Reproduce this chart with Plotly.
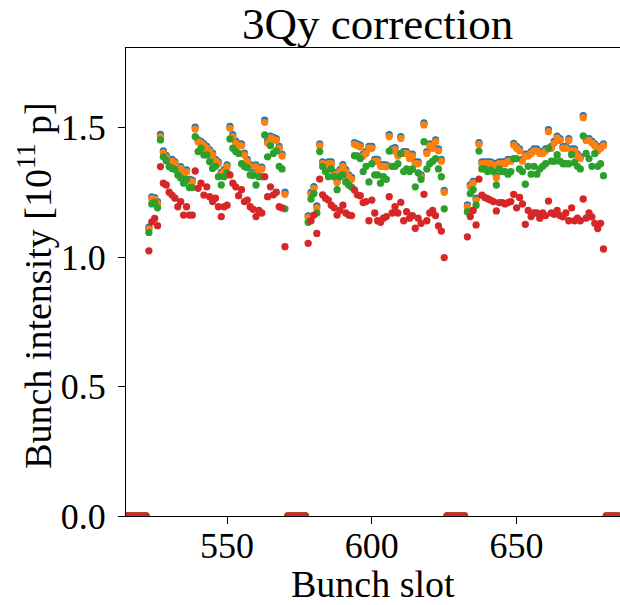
import plotly.graph_objects as go

# Bunch slots
train1_slots = list(range(523, 571))
train2_slots = list(range(578, 626))
train3_slots = list(range(633, 681))
empty_slots = [515, 516, 517, 518, 519, 520, 521, 522,
               571, 572, 573, 574, 575, 576, 577,
               626, 627, 628, 629, 630, 631, 632,
               681, 682, 683, 684, 685]

# Series values (10^11 p) per train
blue_t1 = [1.115, 1.232, 1.229, 1.214, 1.473, 1.410, 1.392, 1.377, 1.377, 1.367, 1.343, 1.349,
           1.327, 1.336, 1.300, 1.297, 1.501, 1.452, 1.446, 1.437, 1.427, 1.414, 1.401, 1.377,
           1.367, 1.327, 1.337, 1.356, 1.504, 1.472, 1.447, 1.437, 1.437, 1.401, 1.377, 1.357,
           1.327, 1.356, 1.343, 1.347, 1.528, 1.447, 1.467, 1.462, 1.457, 1.427, 1.397, 1.250]
orange_t1 = [1.108, 1.225, 1.222, 1.207, 1.465, 1.403, 1.385, 1.370, 1.370, 1.360, 1.336, 1.342,
             1.320, 1.329, 1.293, 1.290, 1.494, 1.445, 1.439, 1.430, 1.420, 1.407, 1.394, 1.370,
             1.360, 1.320, 1.330, 1.349, 1.497, 1.465, 1.440, 1.430, 1.430, 1.394, 1.370, 1.350,
             1.320, 1.349, 1.336, 1.340, 1.520, 1.440, 1.460, 1.455, 1.450, 1.420, 1.390, 1.242]
green_t1 = [1.095, 1.205, 1.212, 1.190, 1.452, 1.387, 1.372, 1.349, 1.342, 1.338, 1.317, 1.305,
            1.285, 1.300, 1.268, 1.268, 1.465, 1.407, 1.420, 1.394, 1.394, 1.368, 1.342, 1.350,
            1.310, 1.278, 1.310, 1.325, 1.456, 1.420, 1.407, 1.400, 1.360, 1.349, 1.345, 1.317,
            1.315, 1.278, 1.310, 1.310, 1.471, 1.387, 1.430, 1.400, 1.410, 1.350, 1.340, 1.186]
red_t1 = [1.024, 1.136, 1.149, 1.121, 1.349, 1.285, 1.278, 1.250, 1.239, 1.227, 1.194, 1.214,
          1.162, 1.194, 1.162, 1.162, 1.332, 1.265, 1.285, 1.239, 1.271, 1.233, 1.214, 1.227,
          1.194, 1.156, 1.194, 1.200, 1.317, 1.285, 1.271, 1.237, 1.260, 1.214, 1.220, 1.194,
          1.184, 1.156, 1.180, 1.170, 1.310, 1.233, 1.271, 1.240, 1.250, 1.194, 1.190, 1.040]

blue_t2 = [1.159, 1.249, 1.272, 1.197, 1.437, 1.367, 1.357, 1.367, 1.367, 1.327, 1.295, 1.337,
           1.357, 1.337, 1.317, 1.307, 1.442, 1.437, 1.432, 1.397, 1.407, 1.427, 1.427, 1.377,
           1.377, 1.357, 1.357, 1.356, 1.472, 1.417, 1.422, 1.397, 1.465, 1.407, 1.407, 1.387,
           1.397, 1.367, 1.367, 1.317, 1.518, 1.407, 1.437, 1.427, 1.452, 1.417, 1.377, 1.257]
orange_t2 = [1.152, 1.242, 1.265, 1.190, 1.430, 1.360, 1.350, 1.360, 1.360, 1.320, 1.288, 1.330,
             1.350, 1.330, 1.310, 1.300, 1.435, 1.430, 1.425, 1.390, 1.400, 1.420, 1.420, 1.370,
             1.370, 1.350, 1.350, 1.349, 1.465, 1.410, 1.415, 1.390, 1.458, 1.400, 1.400, 1.380,
             1.390, 1.360, 1.360, 1.310, 1.510, 1.400, 1.430, 1.420, 1.445, 1.410, 1.370, 1.250]
green_t2 = [1.134, 1.224, 1.245, 1.170, 1.407, 1.349, 1.330, 1.310, 1.340, 1.310, 1.260, 1.310,
            1.317, 1.290, 1.278, 1.270, 1.391, 1.390, 1.380, 1.330, 1.350, 1.290, 1.360, 1.317,
            1.317, 1.285, 1.310, 1.300, 1.409, 1.350, 1.350, 1.360, 1.400, 1.330, 1.340, 1.330,
            1.340, 1.271, 1.325, 1.300, 1.445, 1.340, 1.360, 1.370, 1.380, 1.340, 1.310, 1.186]
red_t2 = [1.053, 1.140, 1.162, 1.091, 1.301, 1.240, 1.227, 1.220, 1.200, 1.190, 1.162, 1.180,
          1.200, 1.170, 1.162, 1.160, 1.259, 1.240, 1.237, 1.210, 1.214, 1.140, 1.220, 1.170,
          1.140, 1.134, 1.150, 1.156, 1.233, 1.170, 1.194, 1.170, 1.211, 1.140, 1.175, 1.150,
          1.160, 1.111, 1.150, 1.130, 1.242, 1.140, 1.170, 1.180, 1.160, 1.120, 1.100, 0.998]

blue_t3 = [1.201, 1.278, 1.292, 1.227, 1.442, 1.367, 1.367, 1.367, 1.367, 1.362, 1.313, 1.367,
           1.367, 1.367, 1.377, 1.377, 1.439, 1.427, 1.417, 1.377, 1.397, 1.397, 1.407, 1.417,
           1.417, 1.407, 1.407, 1.417, 1.492, 1.427, 1.447, 1.467, 1.457, 1.427, 1.427, 1.457,
           1.417, 1.417, 1.397, 1.387, 1.546, 1.457, 1.457, 1.447, 1.437, 1.417, 1.427, 1.437]
orange_t3 = [1.194, 1.271, 1.285, 1.220, 1.435, 1.360, 1.360, 1.360, 1.360, 1.355, 1.306, 1.360,
             1.360, 1.360, 1.370, 1.370, 1.432, 1.420, 1.410, 1.370, 1.390, 1.390, 1.400, 1.410,
             1.410, 1.400, 1.400, 1.410, 1.484, 1.420, 1.440, 1.460, 1.450, 1.420, 1.420, 1.450,
             1.410, 1.410, 1.390, 1.380, 1.538, 1.450, 1.450, 1.440, 1.430, 1.410, 1.420, 1.430]
green_t3 = [1.175, 1.245, 1.260, 1.200, 1.409, 1.340, 1.340, 1.330, 1.335, 1.330, 1.278, 1.340,
            1.330, 1.330, 1.320, 1.330, 1.380, 1.380, 1.340, 1.330, 1.281, 1.350, 1.320, 1.350,
            1.320, 1.340, 1.350, 1.360, 1.420, 1.370, 1.370, 1.395, 1.370, 1.360, 1.360, 1.360,
            1.395, 1.365, 1.350, 1.340, 1.468, 1.400, 1.380, 1.350, 1.400, 1.350, 1.360, 1.314]
red_t3 = [1.078, 1.156, 1.180, 1.124, 1.301, 1.239, 1.230, 1.225, 1.220, 1.214, 1.178, 1.210,
          1.210, 1.205, 1.210, 1.214, 1.242, 1.190, 1.230, 1.205, 1.126, 1.180, 1.156, 1.170,
          1.170, 1.150, 1.170, 1.160, 1.216, 1.170, 1.165, 1.180, 1.160, 1.155, 1.170, 1.140,
          1.190, 1.140, 1.150, 1.140, 1.224, 1.150, 1.170, 1.155, 1.130, 1.110, 1.130, 1.031]

x_ticks = [550, 600, 650]
y_ticks = [0.0, 0.5, 1.0, 1.5]

slots = train1_slots + train2_slots + train3_slots + empty_slots
zeros = [0.0] * len(empty_slots)

series = [
    ("#1f77b4", blue_t1 + blue_t2 + blue_t3),
    ("#ff7f0e", orange_t1 + orange_t2 + orange_t3),
    ("#2ca02c", green_t1 + green_t2 + green_t3),
    ("#d62728", red_t1 + red_t2 + red_t3),
]

fig = go.Figure()
for color, vals in series:
    fig.add_trace(go.Scatter(
        x=slots, y=vals + zeros, mode="markers",
        marker=dict(color=color, size=7.3, line=dict(width=0)),
        cliponaxis=True, showlegend=False,
    ))

font_family = "Liberation Serif"
axis_common = dict(
    showline=True, linecolor="black", linewidth=1.3,
    ticks="outside", ticklen=7, tickwidth=1.3, tickcolor="black",
    showgrid=False, zeroline=False,
    tickfont=dict(family=font_family, size=36, color="black"),
)

fig.update_layout(
    width=620, height=605,
    margin=dict(l=126, r=0, t=48, b=89),
    paper_bgcolor="white", plot_bgcolor="white",
    xaxis=dict(range=[515.1, 685.7], tickvals=x_ticks, mirror=True,
               ticklabelstandoff=-9, **axis_common),
    yaxis=dict(range=[0, 1.807], tickvals=y_ticks, tickformat=".1f", mirror=False,
               ticklabelstandoff=5, **axis_common),
    annotations=[
        dict(text="3Qy correction", x=0.51, y=1.051, xref="paper", yref="paper",
             xanchor="center", yanchor="middle", showarrow=False,
             font=dict(family=font_family, size=45, color="black")),
        dict(text="Bunch slot", x=0.5, y=-0.145, xref="paper", yref="paper",
             xanchor="center", yanchor="middle", showarrow=False,
             font=dict(family=font_family, size=38, color="black")),
        dict(text="Bunch intensity [10<sup>11</sup> p]", x=-0.184, y=0.492, xref="paper", yref="paper",
             xanchor="center", yanchor="middle", textangle=-90, showarrow=False,
             font=dict(family=font_family, size=38, color="black")),
    ],
)

fig.write_html("out.html")
